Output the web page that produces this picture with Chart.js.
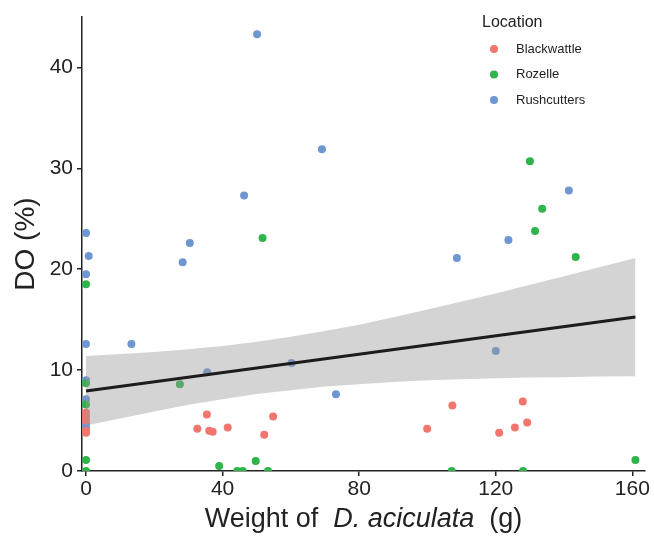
<!DOCTYPE html>
<html>
<head>
<meta charset="utf-8">
<title>DO vs weight</title>
<script src="https://cdn.jsdelivr.net/npm/chart.js@4.4.1/dist/chart.umd.min.js"></script>
<style>
  html, body { margin: 0; padding: 0; background: #fff; }
  #doChart { display: block; }
</style>
</head>
<body>
<canvas id="doChart" width="654" height="540"></canvas>
<script>
const xTicks = [0, 40, 80, 120, 160];
const yTicks = [0, 10, 20, 30, 40];

const locations = ["Blackwattle", "Rozelle", "Rushcutters"];
const locationColors = ["#F2756E", "#2FB34B", "#6E96D0"];

// weight (g) / DO (%) per site
const blackwattleX = [0, 0, 0, 0, 0, 32.6, 35.4, 36.1, 37.1, 41.5, 52.2, 54.8, 99.9, 107.3, 121.0, 125.6, 127.9, 129.2];
const blackwattleY = [5.8, 5.4, 5.0, 4.0, 3.8, 4.2, 5.6, 4.0, 3.9, 4.3, 3.6, 5.4, 4.2, 6.5, 3.8, 4.3, 6.9, 4.8];

const rozelleX = [0, 0, 0, 0, 0, 27.5, 39.0, 44.3, 45.9, 49.7, 51.7, 53.3, 107.1, 128.0, 130.0, 131.5, 133.6, 143.4, 160.9];
const rozelleY = [18.5, 8.7, 6.6, 1.1, 0, 8.6, 0.5, 0, 0, 1.0, 23.1, 0, 0, 0, 30.7, 23.8, 26.0, 21.2, 1.1];

const rushcuttersX = [0, 0.8, 0, 0, 0, 0, 0, 0, 13.3, 28.3, 30.4, 35.5, 46.3, 50.1, 60.2, 69.1, 73.2, 108.6, 120.0, 123.7, 141.4];
const rushcuttersY = [23.6, 21.3, 19.5, 12.6, 9.0, 7.1, 4.7, 4.3, 12.6, 20.7, 22.6, 9.8, 27.3, 43.3, 10.7, 31.9, 7.6, 21.1, 11.9, 22.9, 27.8];

// linear fit and its 95% band
const fitX = [0, 160.9];
const fitY = [7.94, 15.26];
const bandX = [0, 10, 20, 30, 40, 50, 60, 70, 80, 90, 100, 110, 120, 130, 140, 150, 160.9];
const bandUpper = [11.4, 11.6, 11.8, 12.06, 12.4, 12.8, 13.3, 13.88, 14.5, 15.25, 16.0, 16.8, 17.6, 18.46, 19.3, 20.18, 21.1];
const bandLower = [4.5, 5.2, 5.9, 6.57, 7.1, 7.64, 8.0, 8.38, 8.6, 8.83, 9.0, 9.1, 9.2, 9.26, 9.3, 9.36, 9.4];

const xTitleParts = [
  { text: "Weight of  ", italic: false },
  { text: "D. aciculata", italic: true },
  { text: "  (g)", italic: false }
];
const yTitle = "DO (%)";
const legendTitle = "Location";

const fontFamily = '"Liberation Sans", Arial, Helvetica, sans-serif';
const inkColor = "#222222";

function toPoints(xs, ys) {
  return xs.map((x, i) => ({ x, y: ys[i] }));
}

const siteSeries = [
  toPoints(blackwattleX, blackwattleY),
  toPoints(rozelleX, rozelleY),
  toPoints(rushcuttersX, rushcuttersY)
];

const pointDatasets = locations.map((name, i) => ({
  label: name,
  data: siteSeries[i],
  backgroundColor: locationColors[i],
  borderWidth: 0,
  pointRadius: 4,
  pointHoverRadius: 4,
  order: 3
}));

const titlesPlugin = {
  id: "axisTitles",
  afterDraw(chart) {
    const { ctx, chartArea } = chart;
    ctx.save();
    ctx.fillStyle = inkColor;

    // x title, mixed upright / italic
    const size = 27;
    const fonts = xTitleParts.map((p) => `${p.italic ? "italic " : ""}${size}px ${fontFamily}`);
    const widths = xTitleParts.map((p, i) => {
      ctx.font = fonts[i];
      return ctx.measureText(p.text).width;
    });
    const total = widths.reduce((a, b) => a + b, 0);
    let x = (chartArea.left + chartArea.right) / 2 - total / 2;
    ctx.textBaseline = "alphabetic";
    ctx.textAlign = "left";
    xTitleParts.forEach((p, i) => {
      ctx.font = fonts[i];
      ctx.fillText(p.text, x, 527);
      x += widths[i];
    });

    // y title
    ctx.translate(26, (chartArea.top + chartArea.bottom) / 2);
    ctx.rotate(-Math.PI / 2);
    ctx.font = `28px ${fontFamily}`;
    ctx.textAlign = "center";
    ctx.textBaseline = "middle";
    ctx.fillText(yTitle, 0, 0);
    ctx.restore();
  }
};

const sideLegendPlugin = {
  id: "sideLegend",
  afterDraw(chart) {
    const { ctx } = chart;
    ctx.save();
    ctx.fillStyle = inkColor;
    ctx.font = `16px ${fontFamily}`;
    ctx.textAlign = "left";
    ctx.textBaseline = "alphabetic";
    ctx.fillText(legendTitle, 482, 27);

    ctx.font = `13px ${fontFamily}`;
    ctx.textBaseline = "middle";
    locations.forEach((name, i) => {
      const y = 49 + i * 25.5;
      ctx.beginPath();
      ctx.fillStyle = locationColors[i];
      ctx.arc(494, y, 4, 0, Math.PI * 2);
      ctx.fill();
      ctx.fillStyle = inkColor;
      ctx.fillText(name, 516, y);
    });
    ctx.restore();
  }
};

const axisStyle = {
  border: { display: true, color: inkColor, width: 1.5 },
  grid: {
    display: true,
    drawOnChartArea: false,
    drawTicks: true,
    tickLength: 5,
    tickColor: inkColor,
    lineWidth: 1.5
  }
};

new Chart(document.getElementById("doChart"), {
  type: "scatter",
  data: {
    datasets: [
      ...pointDatasets,
      {
        label: "upper",
        type: "line",
        data: toPoints(bandX, bandUpper),
        borderWidth: 0,
        pointRadius: 0,
        fill: "+1",
        backgroundColor: "rgba(153, 153, 153, 0.42)",
        order: 2
      },
      {
        label: "lower",
        type: "line",
        data: toPoints(bandX, bandLower),
        borderWidth: 0,
        pointRadius: 0,
        fill: false,
        order: 2
      },
      {
        label: "fit",
        type: "line",
        data: toPoints(fitX, fitY),
        borderColor: "#1c1c1c",
        borderWidth: 3,
        pointRadius: 0,
        fill: false,
        order: 1
      }
    ]
  },
  options: {
    responsive: false,
    animation: false,
    devicePixelRatio: 1,
    layout: { padding: { left: 0, top: 17, right: 9, bottom: 0 } },
    plugins: {
      legend: { display: false },
      tooltip: { enabled: false }
    },
    scales: {
      x: {
        type: "linear",
        min: -1.17,
        max: 163.7,
        ...axisStyle,
        afterBuildTicks(axis) {
          axis.ticks = xTicks.map((v) => ({ value: v }));
        },
        afterFit(axis) {
          axis.height = 69;
        },
        ticks: {
          color: inkColor,
          font: { family: fontFamily, size: 21 },
          padding: 1,
          maxRotation: 0
        }
      },
      y: {
        type: "linear",
        min: 0,
        max: 45,
        ...axisStyle,
        afterBuildTicks(axis) {
          axis.ticks = yTicks.map((v) => ({ value: v }));
        },
        afterFit(axis) {
          axis.width = 82;
        },
        ticks: {
          color: inkColor,
          font: { family: fontFamily, size: 21 },
          padding: 4
        }
      }
    }
  },
  plugins: [titlesPlugin, sideLegendPlugin]
});
</script>
</body>
</html>
